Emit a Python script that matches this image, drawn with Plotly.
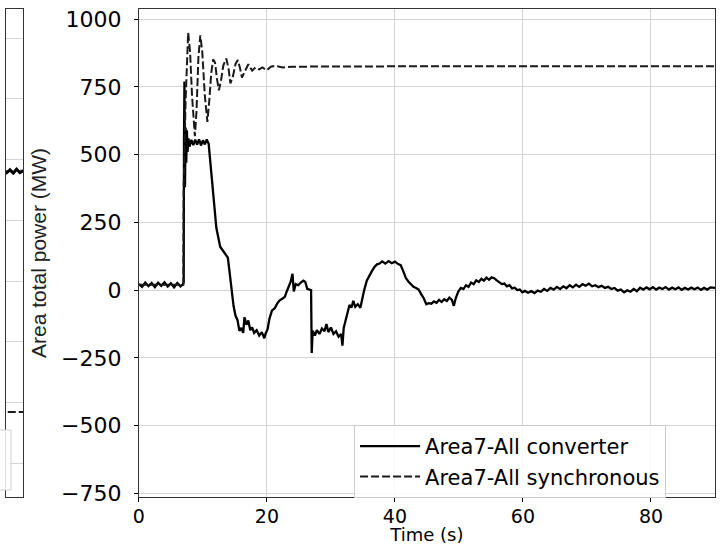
import plotly.graph_objects as go

# ---------------- data ----------------
# Area 7: power delivered by all converter-interfaced units (MW)
conv_t = [0.0, 0.5, 1.0, 1.5, 2.0, 2.5, 3.0, 3.5, 4.0, 4.5, 5.0, 5.5, 6.0, 6.5, 6.9,
          7.0, 7.05, 7.12, 7.2, 7.3, 7.4, 7.5, 7.6, 7.75, 7.9,
          8.2, 8.5, 8.8, 9.1, 9.4, 9.7, 10.0, 10.3, 10.6, 10.9,
          11.2, 11.5, 11.8, 12.1, 12.4, 12.7, 13.0, 13.3, 13.6, 13.9,
          14.2, 14.5, 14.8, 15.1, 15.4, 15.7, 16.0, 16.3, 16.5, 16.8,
          17.1, 17.4, 17.7, 18.0, 18.4, 18.8, 19.2, 19.6, 19.8, 20.1,
          20.4, 20.8, 21.2, 21.6, 22.0, 22.4, 22.8, 23.1, 23.4, 23.7,
          24.0, 24.2, 24.5, 24.9, 25.3, 25.7, 26.0, 26.3, 26.9, 27.0,
          27.15, 27.5, 27.8, 28.2, 28.6, 29.0, 29.3, 29.6, 30.0, 30.4,
          30.8, 31.2, 31.6, 31.8, 32.0, 32.3, 32.6, 32.9, 33.2, 33.5,
          33.8, 34.2, 34.6, 34.9, 35.2, 35.6, 36.0, 36.4, 36.8, 37.2,
          37.6, 38.0, 38.5, 39.0, 39.5, 40.0, 40.5, 40.9, 41.3, 41.7,
          42.1, 42.5, 42.9, 43.3, 43.7, 44.1, 44.5, 44.9, 45.3, 45.7,
          46.1, 46.5, 46.9, 47.3, 47.7, 48.1, 48.5, 48.9, 49.2, 49.5,
          49.9, 50.3, 50.7, 51.1, 51.5, 51.9, 52.3, 52.7, 53.1, 53.5,
          53.9, 54.3, 54.7, 55.1, 55.5, 55.9, 56.3, 56.7, 57.1, 57.5,
          57.9, 58.3, 58.7, 59.1, 59.5, 59.9, 60.3, 60.8, 61.3, 61.8,
          62.3, 62.8, 63.3, 63.8, 64.3, 64.8, 65.3, 65.8, 66.3, 66.8,
          67.3, 67.8, 68.3, 68.8, 69.3, 69.8, 70.3, 70.8, 71.3, 71.8,
          72.3, 72.8, 73.3, 73.8, 74.3, 74.8, 75.3, 75.8, 76.3, 76.8,
          77.3, 77.8, 78.3, 78.8, 79.3, 79.8, 80.3, 80.8, 81.3, 81.8,
          82.3, 82.8, 83.3, 83.8, 84.3, 84.8, 85.3, 85.8, 86.3, 86.8,
          87.3, 87.8, 88.3, 88.8, 89.3, 90.0]
conv_mw = [22, 12, 28, 15, 26, 11, 27, 16, 29, 13, 25, 10, 26, 14, 22,
           30, 560, 770, 380, 600, 470, 590, 510, 560, 530,
           555, 535, 556, 537, 557, 534, 553, 538, 556, 540,
           460, 360, 300, 230, 195, 160, 150, 140, 132, 120,
           60, 0, -60, -95, -110, -150, -140, -158, -100, -128,
           -112, -148, -138, -158, -148, -168, -155, -178, -160, -145,
           -105, -75, -68, -50, -38, -32, -25, -5, 15, 30,
           60, -5, 22, 18, 28, 35, 30, 5, 0, -232,
           -150, -168, -148, -162, -142, -152, -125, -155, -138, -162,
           -152, -172, -162, -205, -140, -110, -80, -55, -65, -40,
           -62, -52, -65, -30, 0, 35, 55, 70, 85, 95,
           98, 106, 98, 107, 99, 105, 96, 92, 70, 45,
           32, 20, 12, 8, 2, -15, -30, -52, -48, -50,
           -42, -47, -36, -44, -34, -40, -28, -36, -58, -30,
           -5, 8, 4, 18, 12, 28, 22, 36, 30, 42,
           35, 46, 38, 47, 44, 36, 30, 22, 24, 14,
           18, 6, 9, 0, 2, -8, -3, -10, -4, -11,
           -2, -6, 4, -3, 8, 2, 12, 4, 14, 7,
           18, 10, 20, 12, 22, 16, 24, 14, 18, 11,
           16, 8, 12, 4, 8, -2, 2, -8, -1, -6,
           4, -4, 9, 2, 10, 3, 11, 2, 9, 4,
           11, 2, 9, 3, 10, 1, 8, 2, 9, 3,
           9, 1, 8, 2, 10, 8]

# Area 7: power delivered by all synchronous machines (MW)
sync_t = [0.0, 2.0, 4.0, 6.0, 6.95, 7.0, 7.3, 7.7, 8.0, 8.3,
          8.75, 9.0, 9.3, 9.6, 9.9, 10.3, 10.7, 11.0, 11.3, 11.6,
          11.9, 12.2, 12.5, 12.8, 13.2, 13.65, 14.0, 14.3, 14.7, 15.1,
          15.45, 15.8, 16.1, 16.5, 17.1, 17.7, 18.2, 18.8, 19.3, 20.0,
          20.6, 21.3, 22.5, 24.0, 30.0, 40.0, 50.0, 60.0, 70.0, 80.0, 90.0]
sync_mw = [20, 20, 20, 20, 20, 380, 700, 951, 880, 720,
           568, 660, 860, 941, 880, 720, 621, 700, 800, 852,
           840, 780, 738, 770, 830, 855, 820, 763, 790, 835,
           850, 820, 785, 805, 834, 810, 822, 815, 822, 812,
           825, 828, 822, 825, 826, 827, 827, 827, 827, 827, 827]

# neighbouring panel (only its right-hand edge shows): levels in MW
prev_t = [86.0, 86.5, 87.0, 87.5, 88.0, 88.5, 89.0, 89.5, 90.0]
prev_conv_mw = [462, 448, 460, 446, 458, 445, 461, 447, 455]
prev_sync_mw = [-538, -538, -538, -538, -538, -538, -538, -538, -538]

x_ticks = [0, 20, 40, 60, 80]
y_ticks = [-750, -500, -250, 0, 250, 500, 750, 1000]
y_tick_text = ["\u2212750", "\u2212500", "\u2212250", "0", "250", "500", "750", "1000"]

# ---------------- figure ----------------
W, H = 725, 545
ML, MR, MT, MB = 0, 10, 9, 48
plot_w = W - ML - MR
plot_h = H - MT - MB
main_left = 134 / plot_w
prev_right = 17.3 / plot_w


def py(v):
    """pixel row (from top) -> paper fraction"""
    return (H - MB - v) / plot_h


GRID = "#d4d4d4"

fig = go.Figure()

fig.add_trace(go.Scatter(
    x=conv_t, y=conv_mw, mode="lines", name="Area7-All converter",
    line=dict(color="black", width=2.3), xaxis="x", yaxis="y"))
fig.add_trace(go.Scatter(
    x=sync_t, y=sync_mw, mode="lines", name="Area7-All synchronous",
    line=dict(color="#1a1a1a", width=2, dash="8px,3px"), xaxis="x", yaxis="y"))

fig.add_trace(go.Scatter(
    x=prev_t, y=prev_conv_mw, mode="lines", showlegend=False,
    line=dict(color="black", width=3), xaxis="x2", yaxis="y2"))
fig.add_trace(go.Scatter(
    x=prev_t, y=prev_sync_mw, mode="lines", showlegend=False,
    line=dict(color="#1a1a1a", width=2, dash="8px,3px"), xaxis="x2", yaxis="y2"))

fig.update_layout(
    width=W, height=H,
    margin=dict(l=ML, r=MR, t=MT, b=MB, pad=0),
    paper_bgcolor="white", plot_bgcolor="white",
    font=dict(family="DejaVu Sans", size=20, color="black"),
    showlegend=True,
    legend=dict(
        x=351 / plot_w, y=py(425),
        xanchor="left", yanchor="top",
        bgcolor="rgba(255,255,255,0.85)", bordercolor="#cccccc", borderwidth=1,
        font=dict(family="DejaVu Sans", size=21, color="black"),
        tracegroupgap=0, itemwidth=60,
    ),
    xaxis=dict(
        domain=[main_left, 1], range=[0, 90],
        tickvals=x_ticks, ticks="outside", ticklen=4, tickcolor="black",
        ticklabelstandoff=-2,
        showgrid=True, gridcolor=GRID, gridwidth=1.2, zeroline=False,
        showline=True, linecolor="#333333", linewidth=1, mirror=True,
        tickfont=dict(family="DejaVu Sans", size=19, color="black"),
        title=dict(text="Time (s)", font=dict(family="DejaVu Sans", size=18),
                   standoff=3),
    ),
    yaxis=dict(
        domain=[0, 1], range=[-764, 1038],
        tickvals=y_ticks, ticktext=y_tick_text,
        ticks="outside", ticklen=4, tickcolor="black",
        ticklabelstandoff=8,
        showgrid=True, gridcolor=GRID, gridwidth=1.2, zeroline=False,
        showline=True, linecolor="#333333", linewidth=1, mirror=True,
        tickfont=dict(family="DejaVu Sans", size=22, color="black"),
        title=dict(text="Area total power (MW)",
                   font=dict(family="Liberation Sans Narrow, Arial Narrow, Liberation Sans, sans-serif",
                             size=21, color="#222222"),
                   standoff=8),
    ),
    xaxis2=dict(
        domain=[0, prev_right], range=[87.4, 90], anchor="y2",
        showticklabels=False, ticks="", showgrid=False, zeroline=False,
        showline=True, linecolor="#333333", linewidth=1, mirror=True,
    ),
    yaxis2=dict(
        domain=[0, 1], range=[-888, 1120], anchor="x2",
        tickvals=y_ticks, showticklabels=False, ticks="",
        showgrid=True, gridcolor=GRID, gridwidth=1.2, zeroline=False,
        showline=True, linecolor="#333333", linewidth=1, mirror=True,
    ),
)

# edge of the neighbouring panel's legend frame
fig.add_shape(type="rect", xref="paper", yref="paper",
              x0=-0.05, x1=5 / plot_w, y0=py(490), y1=py(430),
              line=dict(color="#d0d0d0", width=1), fillcolor="rgba(255,255,255,0.85)",
              layer="above")

fig.write_html("out.html")
